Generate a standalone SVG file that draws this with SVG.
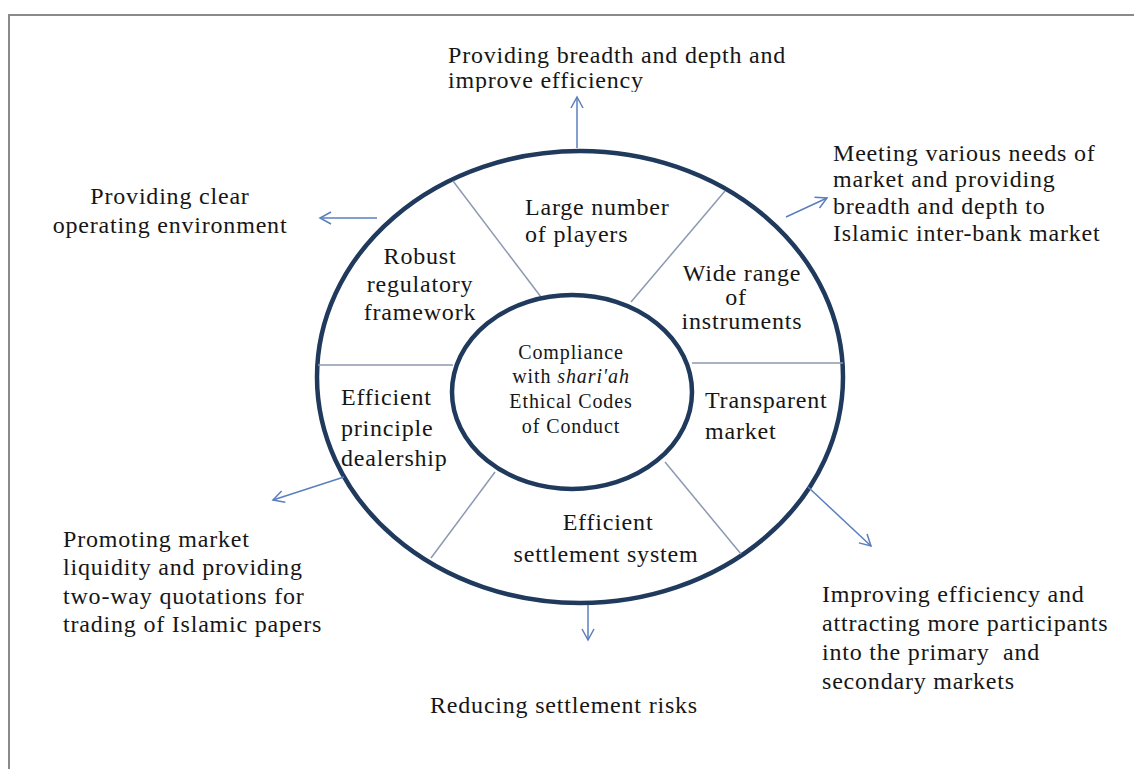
<svg xmlns="http://www.w3.org/2000/svg" width="1134" height="769" viewBox="0 0 1134 769">
<style>
.t{font-family:"Liberation Serif","Times New Roman",serif;font-size:24px;letter-spacing:0.8px;fill:#161616}
.c{font-size:20px;letter-spacing:0.9px}
.m{text-anchor:middle}
.ring{fill:none;stroke:#1f3a5c;stroke-width:4.5}
.div{stroke:#8c99b2;stroke-width:1.5;fill:none}
.arr{stroke:#5a7fbd;stroke-width:1.5;fill:none;marker-end:url(#ah)}
.frame{stroke:#8a8a8a;stroke-width:2;fill:none}
</style>
<defs>
<marker id="ah" markerUnits="userSpaceOnUse" markerWidth="16" markerHeight="16" refX="13" refY="7" orient="auto">
<path d="M2,1 L13,7 L2,13" fill="none" stroke="#5a7fbd" stroke-width="1.5"/>
</marker>
<clipPath id="clipTop"><rect x="430" y="20" width="400" height="72"/></clipPath>
</defs>
<rect width="1134" height="769" fill="#ffffff"/>
<path class="frame" d="M9,769 L9,15 L1134,15"/>

<g id="ring">
<ellipse class="ring" cx="580" cy="377" rx="263" ry="226"/>
</g>

<g id="dividers">
<line class="div" x1="453" y1="181" x2="541" y2="297"/>
<line class="div" x1="725" y1="191" x2="631" y2="302"/>
<line class="div" x1="318" y1="365" x2="453" y2="365"/>
<line class="div" x1="692" y1="363" x2="843" y2="363"/>
<line class="div" x1="495" y1="472" x2="431" y2="558"/>
<line class="div" x1="665" y1="462" x2="741" y2="554"/>
</g>

<g id="center">
<ellipse class="ring" cx="572" cy="392" rx="120" ry="97"/>
<text class="t c m" x="571" y="359">Compliance</text>
<text class="t c m" x="571" y="383">with <tspan font-style="italic">shari'ah</tspan></text>
<text class="t c m" x="571" y="408">Ethical Codes</text>
<text class="t c m" x="571" y="433">of Conduct</text>
</g>

<g id="seg-players">
<text class="t" x="525" y="215">Large number</text>
<text class="t" x="525" y="242">of players</text>
</g>
<g id="seg-regulatory">
<text class="t m" x="420" y="264">Robust</text>
<text class="t m" x="420" y="292">regulatory</text>
<text class="t m" x="420" y="320">framework</text>
</g>
<g id="seg-instruments">
<text class="t m" x="742" y="281">Wide range</text>
<text class="t m" x="736" y="305">of</text>
<text class="t m" x="742" y="329">instruments</text>
</g>
<g id="seg-transparent">
<text class="t" x="705" y="408">Transparent</text>
<text class="t" x="705" y="439">market</text>
</g>
<g id="seg-dealership">
<text class="t" x="341" y="405">Efficient</text>
<text class="t" x="341" y="436">principle</text>
<text class="t" x="341" y="466">dealership</text>
</g>
<g id="seg-settlement">
<text class="t m" x="608" y="530">Efficient</text>
<text class="t m" x="606" y="562">settlement system</text>
</g>

<g id="connectors">
<line class="arr" x1="577" y1="148" x2="577" y2="97"/>
<line class="arr" x1="377" y1="218" x2="320" y2="218"/>
<line class="arr" x1="786" y1="217" x2="827" y2="198"/>
<line class="arr" x1="344" y1="477" x2="273" y2="500"/>
<line class="arr" x1="588" y1="605" x2="588" y2="640"/>
<line class="arr" x1="808" y1="487" x2="871" y2="546"/>
</g>

<g id="out-top" clip-path="url(#clipTop)">
<text class="t" x="448" y="63">Providing breadth and depth and</text>
<text class="t" x="448" y="88">improve efficiency</text>
</g>
<g id="out-left">
<text class="t m" x="170" y="204">Providing clear</text>
<text class="t m" x="170" y="233">operating environment</text>
</g>
<g id="out-right">
<text class="t" x="833" y="161">Meeting various needs of</text>
<text class="t" x="833" y="187">market and providing</text>
<text class="t" x="833" y="214">breadth and depth to</text>
<text class="t" x="833" y="241">Islamic inter-bank market</text>
</g>
<g id="out-lowerleft">
<text class="t" x="63" y="547">Promoting market</text>
<text class="t" x="63" y="575">liquidity and providing</text>
<text class="t" x="63" y="604">two-way quotations for</text>
<text class="t" x="63" y="632">trading of Islamic papers</text>
</g>
<g id="out-lowerright">
<text class="t" x="822" y="602">Improving efficiency and</text>
<text class="t" x="822" y="631">attracting more participants</text>
<text class="t" x="822" y="660" xml:space="preserve">into the primary  and</text>
<text class="t" x="822" y="689">secondary markets</text>
</g>
<g id="out-bottom">
<text class="t m" x="564" y="713">Reducing settlement risks</text>
</g>
</svg>
